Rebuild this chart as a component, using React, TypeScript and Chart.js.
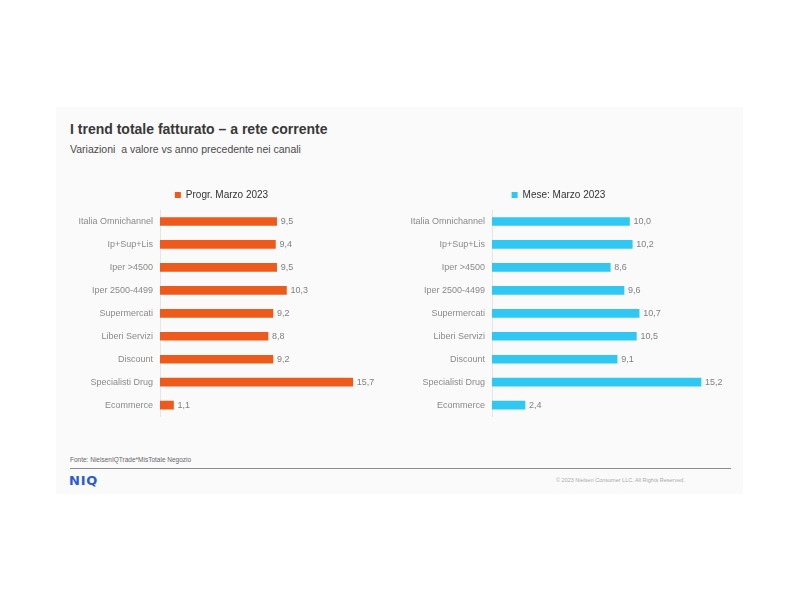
import React, { useEffect, useRef } from "react";
import { Chart, registerables } from "chart.js";

Chart.register(...registerables);

const categories = [
  "Italia Omnichannel",
  "Ip+Sup+Lis",
  "Iper >4500",
  "Iper 2500-4499",
  "Supermercati",
  "Liberi Servizi",
  "Discount",
  "Specialisti Drug",
  "Ecommerce",
];
const progrValues = [9.5, 9.4, 9.5, 10.3, 9.2, 8.8, 9.2, 15.7, 1.1];
const meseValues = [10.0, 10.2, 8.6, 9.6, 10.7, 10.5, 9.1, 15.2, 2.4];
const progrLabel = "Progr. Marzo 2023";
const meseLabel = "Mese: Marzo 2023";

const FONT = "'Liberation Sans', Arial, sans-serif";

const valueLabels = {
  id: "valueLabels",
  afterDatasetsDraw(chart: any) {
    const ctx = chart.ctx;
    const meta = chart.getDatasetMeta(0);
    const data = chart.data.datasets[0].data as number[];
    ctx.save();
    ctx.font = `9px ${FONT}`;
    ctx.fillStyle = "#808080";
    ctx.textAlign = "left";
    ctx.textBaseline = "middle";
    meta.data.forEach((bar: any, i: number) => {
      ctx.fillText(data[i].toFixed(1).replace(".", ","), bar.x + 4, bar.y);
    });
    ctx.restore();
  },
};

type PanelProps = {
  label: string;
  values: number[];
  color: string;
  max: number;
  axisWidth: number;
  padRight: number;
  left: number;
  top: number;
  width: number;
  height: number;
};

function BarPanel(p: PanelProps) {
  const ref = useRef<HTMLCanvasElement>(null);
  useEffect(() => {
    const chart = new Chart(ref.current as HTMLCanvasElement, {
      type: "bar",
      data: {
        labels: categories,
        datasets: [
          {
            label: p.label,
            data: p.values,
            backgroundColor: p.color,
            barThickness: 8,
          },
        ],
      },
      options: {
        indexAxis: "y",
        animation: false,
        responsive: false,
        maintainAspectRatio: false,
        layout: { padding: { left: 0, right: p.padRight, top: 0, bottom: 2 } },
        plugins: {
          legend: {
            display: true,
            position: "top",
            labels: {
              boxWidth: 6,
              boxHeight: 6,
              padding: 8,
              color: "#333",
              font: { size: 10, family: FONT },
            },
          },
          tooltip: { enabled: false },
        },
        scales: {
          x: { display: false, min: 0, max: p.max },
          y: {
            afterFit: (s: any) => {
              s.width = p.axisWidth;
            },
            grid: { display: false, drawTicks: false },
            border: { display: true, color: "#e6e6e6" },
            ticks: { padding: 7, color: "#8a8a8a", font: { size: 9, family: FONT } },
          },
        },
      } as any,
      plugins: [valueLabels],
    });
    return () => chart.destroy();
  }, []);
  return (
    <canvas
      ref={ref}
      width={p.width}
      height={p.height}
      style={{ position: "absolute", left: p.left, top: p.top, width: p.width, height: p.height }}
    />
  );
}

export default function App() {
  return (
    <div style={{ position: "absolute", left: 0, top: 0, width: 800, height: 600, background: "#ffffff", fontFamily: FONT }}>
      <div style={{ position: "absolute", left: 56, top: 107, width: 687, height: 387, background: "#fafafa" }} />
      <div style={{ position: "absolute", left: 70, top: 121, fontSize: 14, lineHeight: "16px", fontWeight: 700, color: "#383838", whiteSpace: "nowrap" }}>
        I trend totale fatturato – a rete corrente
      </div>
      <div style={{ position: "absolute", left: 70, top: 143, fontSize: 10.5, lineHeight: "12px", color: "#4a4a4a", whiteSpace: "nowrap" }}>
        Variazioni&nbsp; a valore vs anno precedente nei canali
      </div>
      <BarPanel label={progrLabel} values={progrValues} color="#ee5a1c" max={18} axisWidth={98} padRight={25} left={62} top={182} width={344} height={247} />
      <BarPanel label={meseLabel} values={meseValues} color="#30c8f2" max={16} axisWidth={87} padRight={13} left={405} top={182} width={320} height={247} />
      <div style={{ position: "absolute", left: 70, top: 456, fontSize: 6.5, lineHeight: "8px", color: "#666", whiteSpace: "nowrap" }}>
        Fonte: NielsenIQTrade*MisTotale Negozio
      </div>
      <div style={{ position: "absolute", left: 70, top: 468, width: 661, height: 1, background: "#8a8a8a" }} />
      <div style={{ position: "absolute", left: 69, top: 473, fontSize: 13, lineHeight: "16px", fontWeight: 700, fontFamily: "'DejaVu Sans', sans-serif", letterSpacing: 0.8, color: "#2a5ad8", whiteSpace: "nowrap" }}>
        NIQ
      </div>
      <div style={{ position: "absolute", left: 556, top: 477, fontSize: 5.5, lineHeight: "7px", color: "#aaa", whiteSpace: "nowrap" }}>
        © 2023 Nielsen Consumer LLC. All Rights Reserved.
      </div>
    </div>
  );
}
